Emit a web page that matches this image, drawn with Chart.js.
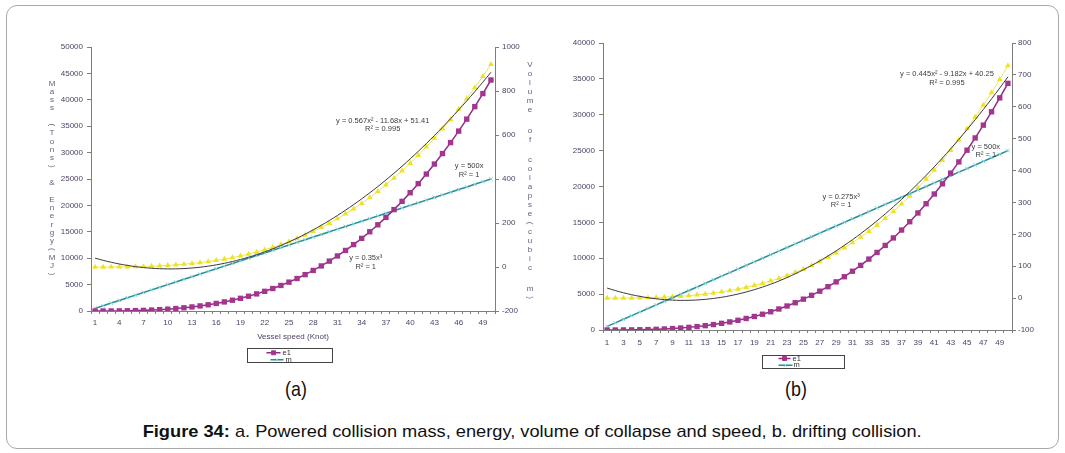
<!DOCTYPE html>
<html>
<head>
<meta charset="utf-8">
<script src="https://cdn.jsdelivr.net/npm/chart.js@4.4.1/dist/chart.umd.min.js"></script>
<style>
  html, body { margin: 0; padding: 0; background: #fff; }
  body { width: 1065px; height: 453px; position: relative; overflow: hidden;
         font-family: "Liberation Sans", Arial, sans-serif; }
  #frame { position: absolute; left: 6px; top: 5px; width: 1053px; height: 444px;
           border: 1px solid #a9a9a9; border-radius: 11px; box-sizing: border-box; }
  canvas { position: absolute; }
  #chartA { left: 0; top: 0; }
  #chartB { left: 555px; top: 0; }
  .sub { position: absolute; top: 377px; width: 100px; text-align: center; font-size: 21px;
         line-height: 24px; color: #111; transform: scaleX(0.85); white-space: nowrap; }
  #subA { left: 246px; }
  #subB { left: 746px; }
  #caption { position: absolute; top: 422px; left: 0; width: 1065px; text-align: center;
             line-height: 20px; white-space: nowrap; }
  #caption span { display: inline-block; font-size: 17px; color: #111; transform-origin: center; }
</style>
</head>
<body>
<div id="frame"></div>
<canvas id="chartA" width="550" height="375"></canvas>
<canvas id="chartB" width="510" height="375"></canvas>
<div class="sub" id="subA">(a)</div>
<div class="sub" id="subB">(b)</div>
<div id="caption"><span id="capText"><b>Figure 34:</b> a. Powered collision mass, energy, volume of collapse and speed, b. drifting collision.</span></div>

<script>
// Vessel speed categories (knots)
const speeds = [1, 2, 3, 4, 5, 6, 7, 8, 9, 10, 11, 12, 13, 14, 15, 16, 17, 18, 19, 20,
  21, 22, 23, 24, 25, 26, 27, 28, 29, 30, 31, 32, 33, 34, 35, 36, 37, 38, 39, 40,
  41, 42, 43, 44, 45, 46, 47, 48, 49, 50];

// (a) powered collision
const energyA = [0.35, 2.8, 9.45, 22.4, 43.75, 75.6, 120.05, 179.2, 255.15, 350,
  465.85, 604.8, 768.95, 960.4, 1181.25, 1433.6, 1719.55, 2041.2, 2400.65, 2800,
  3241.35, 3726.8, 4258.45, 4838.4, 5468.75, 6151.6, 6889.05, 7683.2, 8536.15, 9450,
  10426.85, 11468.8, 12577.95, 13756.4, 15006.25, 16329.6, 17728.55, 19205.2, 20761.65, 22400,
  24122.35, 25930.8, 27827.45, 29814.4, 31893.75, 34067.6, 36338.05, 38707.2, 41177.15, 43750];
const massA = [500, 1000, 1500, 2000, 2500, 3000, 3500, 4000, 4500, 5000,
  5500, 6000, 6500, 7000, 7500, 8000, 8500, 9000, 9500, 10000,
  10500, 11000, 11500, 12000, 12500, 13000, 13500, 14000, 14500, 15000,
  15500, 16000, 16500, 17000, 17500, 18000, 18500, 19000, 19500, 20000,
  20500, 21000, 21500, 22000, 22500, 23000, 23500, 24000, 24500, 25000];
const volumeA = [0.0, 0.1, 0.2, 0.5, 0.9, 1.6, 2.5, 3.8, 5.4, 7.4,
  9.8, 12.7, 16.2, 20.2, 24.9, 30.2, 36.2, 43.0, 50.5, 58.9,
  68.2, 78.5, 89.6, 101.9, 115.1, 129.5, 145.0, 161.7, 179.7, 198.9,
  219.5, 241.4, 264.8, 289.6, 315.9, 343.8, 373.2, 404.3, 437.1, 471.6,
  507.8, 545.9, 585.8, 627.6, 671.4, 717.2, 765.0, 814.9, 866.9, 921.0];
const volumeFitA = [0.567, -11.68, 51.41];   // quadratic trend coefficients
const volumeFitR2A = 0.995;
const energyFitA = 0.35;                     // y = k x^3
const massFit = 500;                         // y = k x
const leftAxisA = [0, 50000, 5000];
const rightAxisA = [-200, 1000, 200];

// (b) drifting collision
const energyB = [0.3, 2.2, 7.4, 17.6, 34.4, 59.4, 94.3, 140.8, 200.5, 275,
  366.0, 475.2, 604.2, 754.6, 928.1, 1126.4, 1351.1, 1603.8, 1886.2, 2200,
  2546.8, 2928.2, 3345.9, 3801.6, 4296.9, 4833.4, 5412.8, 6036.8, 6707.0, 7425,
  8192.5, 9011.2, 9882.7, 10808.6, 11790.6, 12830.4, 13929.6, 15089.8, 16312.7, 17600,
  18953.3, 20374.2, 21864.4, 23425.6, 25059.4, 26767.4, 28551.3, 30412.8, 32353.5, 34375];
const massB = [500, 1000, 1500, 2000, 2500, 3000, 3500, 4000, 4500, 5000,
  5500, 6000, 6500, 7000, 7500, 8000, 8500, 9000, 9500, 10000,
  10500, 11000, 11500, 12000, 12500, 13000, 13500, 14000, 14500, 15000,
  15500, 16000, 16500, 17000, 17500, 18000, 18500, 19000, 19500, 20000,
  20500, 21000, 21500, 22000, 22500, 23000, 23500, 24000, 24500, 25000];
const volumeB = [0.0, 0.0, 0.2, 0.4, 0.7, 1.3, 2.0, 3.0, 4.3, 5.8,
  7.8, 10.1, 12.8, 16.0, 19.7, 23.9, 28.6, 34.0, 40.0, 46.6,
  54.0, 62.1, 70.9, 80.6, 91.1, 102.5, 114.8, 128.0, 142.2, 157.4,
  173.7, 191.0, 209.5, 229.1, 250.0, 272.0, 295.3, 319.9, 345.8, 373.1,
  401.8, 431.9, 463.5, 496.6, 531.3, 567.5, 605.3, 644.8, 685.9, 728.8];
const volumeFitB = [0.445, -9.182, 40.25];
const volumeFitR2B = 0.995;
const energyFitB = 0.275;
const leftAxisB = [0, 40000, 5000];
const rightAxisB = [-100, 800, 100];

const FONT = '"Liberation Sans", Arial, sans-serif';
const TICK_COLOR = '#4f4266';
const AXIS_COLOR = '#7d7d7d';
const C = {
  energyLine: '#8c2f84', energyPt: '#a3358f',
  massLine: '#2b8a93', massPt: '#84d6df',
  volLine: '#ece45a', volPt: '#efe21f',
  fit: '#3a3a3a'
};

Chart.defaults.font.family = FONT;
Chart.defaults.font.size = 8;
Chart.defaults.color = TICK_COLOR;

// quadratic trend line evaluated at each speed
function quadTrend(coef) {
  return speeds.map(x => coef[0] * x * x + coef[1] * x + coef[2]);
}
function fmtQuad(coef) {
  const s1 = coef[1] < 0 ? ' - ' : ' + ';
  const s2 = coef[2] < 0 ? ' - ' : ' + ';
  return 'y = ' + coef[0] + 'x\u00B2' + s1 + Math.abs(coef[1]) + 'x' + s2 + Math.abs(coef[2]);
}

// stacked (one letter per line) axis titles
const stackTitles = {
  id: 'stackTitles',
  afterDraw(chart, args, opts) {
    const { ctx, chartArea } = chart;
    (opts.items || []).forEach(item => {
      ctx.save();
      ctx.font = item.size + 'px ' + FONT;
      ctx.fillStyle = item.color;
      ctx.textAlign = 'center';
      ctx.textBaseline = 'middle';
      const x = (item.side === 'left' ? chartArea.left : chartArea.right) + item.dx;
      let y = chartArea.top + item.dy;
      const chars = [...item.text];
      chars.forEach((ch, i) => {
        if (i > 0) {
          const a = chars[i - 1] === ' ' ? item.space : item.step;
          const b = ch === ' ' ? item.space : item.step;
          y += (a + b) / 2;
        }
        if (ch === ' ') return;
        if (ch === '(' || ch === ')') {
          ctx.save();
          ctx.translate(x, y);
          ctx.rotate(Math.PI / 2);
          ctx.fillText(ch, 0, 0);
          ctx.restore();
        } else {
          ctx.fillText(ch, x, y);
        }
      });
      ctx.restore();
    });
  }
};

// trend-line equation labels, anchored in data space
const fitLabels = {
  id: 'fitLabels',
  afterDatasetsDraw(chart, args, opts) {
    const { ctx, scales } = chart;
    ctx.save();
    ctx.font = opts.size + 'px ' + FONT;
    ctx.fillStyle = opts.color;
    ctx.textAlign = 'center';
    ctx.textBaseline = 'middle';
    opts.items.forEach(it => {
      const x = scales.x.getPixelForValue(it.at[0]);
      const y = scales.y.getPixelForValue(it.at[1]);
      it.lines.forEach((ln, k) => ctx.fillText(ln, x, y + k * opts.gap));
    });
    ctx.restore();
  }
};

// small boxed legend below the plot
const boxLegend = {
  id: 'boxLegend',
  afterDraw(chart, args, opts) {
    const { ctx, chartArea } = chart;
    const cx = (chartArea.left + chartArea.right) / 2;
    const L = Math.round(cx + opts.dx) + 0.5;
    const T = Math.round(chartArea.bottom + opts.dy) + 0.5;
    ctx.save();
    ctx.fillStyle = '#fff';
    ctx.fillRect(L, T, opts.w, opts.h);
    ctx.beginPath();
    ctx.rect(L, T, opts.w, opts.h);
    ctx.clip();
    opts.rows.forEach(r => {
      const ds = chart.data.datasets[r.ds];
      const y = T + r.y;
      ctx.strokeStyle = ds.borderColor;
      ctx.lineWidth = 1.5;
      ctx.beginPath();
      ctx.moveTo(L + r.x0, y);
      ctx.lineTo(L + r.x1, y);
      ctx.stroke();
      ctx.fillStyle = ds.pointBackgroundColor;
      ctx.strokeStyle = ds.pointBorderColor;
      ctx.lineWidth = 1;
      Chart.helpers.drawPoint(ctx, { pointStyle: ds.pointStyle, radius: r.r, rotation: 0, borderWidth: 1 },
        L + (r.x0 + r.x1) / 2, y);
      ctx.fillStyle = '#333';
      ctx.font = '7.5px ' + FONT;
      ctx.textAlign = 'left';
      ctx.textBaseline = 'middle';
      ctx.fillText(ds.label, L + r.tx, y);
    });
    ctx.restore();
    ctx.save();
    ctx.strokeStyle = '#444';
    ctx.lineWidth = 1;
    ctx.strokeRect(L, T, opts.w, opts.h);
    ctx.restore();
  }
};

function buildChart(canvas, p) {
  const datasets = [
    { label: 'fit', data: quadTrend(p.volFit), yAxisID: 'y1', borderColor: C.fit,
      borderWidth: 1, pointRadius: 0, tension: 0.3 },
    { label: 'e1', data: p.energy, yAxisID: 'y', borderColor: C.energyLine, borderWidth: 1.5,
      pointStyle: 'rect', pointRadius: 3.8, pointBackgroundColor: C.energyPt,
      pointBorderColor: C.energyPt, pointBorderWidth: 0 },
    { label: 'm', data: p.mass, yAxisID: 'y', borderColor: C.massLine, borderWidth: 1.5,
      pointStyle: 'crossRot', pointRadius: 2.6, pointBackgroundColor: C.massPt,
      pointBorderColor: C.massPt, pointBorderWidth: 1 },
    { label: 'v', data: p.volume, yAxisID: 'y1', borderColor: C.volLine, borderWidth: 1,
      pointStyle: 'triangle', pointRadius: 3.3, pointBackgroundColor: C.volPt,
      pointBorderColor: C.volPt, pointBorderWidth: 0 }
  ];
  const tickGrid = { drawOnChartArea: false, drawTicks: true, color: AXIS_COLOR, lineWidth: 1 };
  return new Chart(canvas, {
    type: 'line',
    data: { labels: speeds, datasets },
    options: {
      responsive: false, animation: false, devicePixelRatio: 1, events: [],
      layout: { padding: { top: p.top, left: 0, right: 0, bottom: 0 } },
      plugins: {
        legend: { display: false }, tooltip: { enabled: false },
        stackTitles: { items: p.titles },
        fitLabels: { size: 7.5, color: '#3c3c3c', gap: 8.5, items: p.labels },
        boxLegend: p.legend
      },
      scales: {
        x: {
          type: 'category', offset: true,
          grid: Object.assign({ offset: true, tickLength: 3 }, tickGrid),
          border: { display: true, color: AXIS_COLOR },
          ticks: { autoSkip: false, maxRotation: 0, padding: p.xPad, color: TICK_COLOR,
                   font: { size: 8 },
                   callback: (v, i) => (i % p.every === 0 ? String(speeds[i]) : '') },
          title: p.xTitle ? { display: true, text: p.xTitle, color: TICK_COLOR, font: { size: 8 },
                              padding: { top: 0, bottom: p.xTitlePad } } : { display: false },
          afterFit: s => { s.height = p.xH; }
        },
        y: {
          position: 'left', min: p.left[0], max: p.left[1],
          grid: Object.assign({ tickLength: 4 }, tickGrid),
          border: { display: true, color: AXIS_COLOR },
          ticks: { stepSize: p.left[2], padding: 4, color: TICK_COLOR, font: { size: 8 },
                   callback: v => String(v) },
          afterFit: s => { s.width = p.yW; }
        },
        y1: {
          position: 'right', min: p.right[0], max: p.right[1],
          grid: Object.assign({ tickLength: 4 }, tickGrid),
          border: { display: true, color: AXIS_COLOR },
          ticks: { stepSize: p.right[2], padding: p.rPad, color: TICK_COLOR, font: { size: 8 },
                   callback: v => String(v) },
          afterFit: s => { s.width = p.y1W; }
        }
      }
    },
    plugins: [stackTitles, fitLabels, boxLegend]
  });
}

buildChart(document.getElementById('chartA'), {
  energy: energyA, mass: massA, volume: volumeA, volFit: volumeFitA,
  left: leftAxisA, right: rightAxisA,
  top: 47, yW: 91, y1W: 55, xH: 64, xPad: 4, rPad: 3, every: 3,
  xTitle: 'Vessel speed (Knot)', xTitlePad: 33,
  titles: [
    { side: 'left', dx: -39, dy: 36.3, step: 8.3, space: 8.3, size: 8, color: '#6a5a80',
      text: 'Mass (Tons) & Energy(MJ)' },
    { side: 'right', dx: 35, dy: 18, step: 9, space: 11.5, size: 8, color: '#6a5a80',
      text: 'Volume of colapse(cubic m)' }
  ],
  labels: [
    { at: [35.6, 36040], lines: [fmtQuad(volumeFitA), 'R\u00B2 = ' + volumeFitR2A] },
    { at: [46.3, 27460], lines: ['y = ' + massFit + 'x', 'R\u00B2 = 1'] },
    { at: [33.5, 9980], lines: ['y = ' + energyFitA + 'x\u00B3', 'R\u00B2 = 1'] }
  ],
  legend: { dx: -46, dy: 37, w: 85, h: 14,
    rows: [ { ds: 1, x0: 19, x1: 33, y: 4.3, tx: 35, r: 2.8 },
            { ds: 2, x0: 23, x1: 36, y: 11.3, tx: 38, r: 2.2 } ] }
});

buildChart(document.getElementById('chartB'), {
  energy: energyB, mass: massB, volume: volumeB, volFit: volumeFitB,
  left: leftAxisB, right: rightAxisB,
  top: 43, yW: 48, y1W: 53, xH: 45, xPad: 5, rPad: 2, every: 2,
  xTitle: null, titles: [],
  labels: [
    { at: [41.55, 35640], lines: [fmtQuad(volumeFitB), 'R\u00B2 = ' + volumeFitR2B] },
    { at: [46.3, 25570], lines: ['y = ' + massFit + 'x', 'R\u00B2 = 1'] },
    { at: [28.6, 18580], lines: ['y = ' + energyFitB + 'x\u00B3', 'R\u00B2 = 1'] }
  ],
  legend: { dx: -45.5, dy: 25, w: 82, h: 13,
    rows: [ { ds: 1, x0: 16, x1: 28, y: 3, tx: 30, r: 2.8 },
            { ds: 2, x0: 16, x1: 30, y: 9.8, tx: 31, r: 2.2 } ] }
});

// fit the caption line to its printed width
(function () {
  const el = document.getElementById('capText');
  const w = el.getBoundingClientRect().width;
  el.style.transform = 'scaleX(' + (779 / w).toFixed(4) + ')';
})();
</script>
</body>
</html>
